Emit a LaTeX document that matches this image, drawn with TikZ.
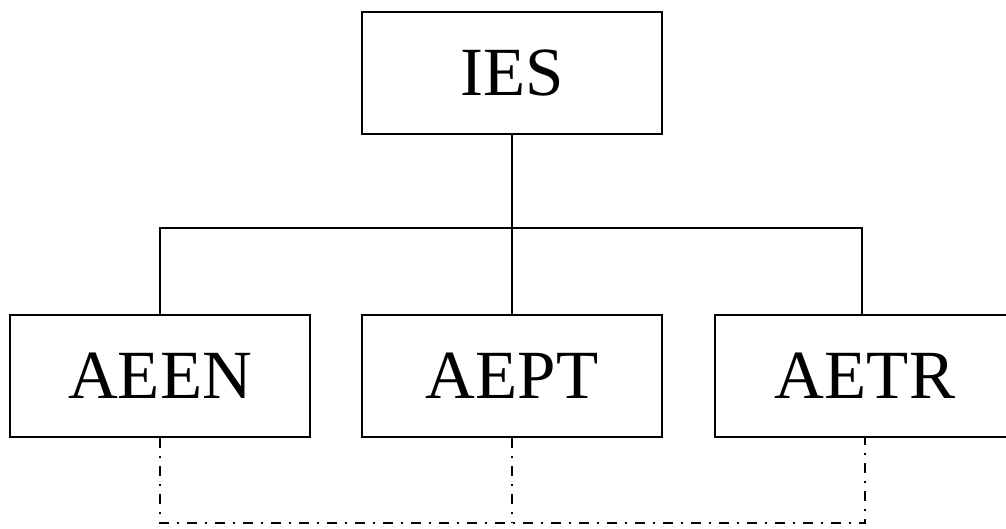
\documentclass[tikz,border=0pt]{standalone}
\usepackage{fontspec}
\setmainfont{Liberation Serif}
\begin{document}
\begin{tikzpicture}[x=1pt,y=-1pt,
  box/.style={draw,line width=2.2pt,minimum width=300pt,minimum height=122pt,inner sep=0pt,font=\fontsize{69}{78}\selectfont},
  link/.style={line width=2.2pt},
  dashdot/.style={line width=2.2pt,dash pattern=on 10pt off 8pt on 2pt off 8pt}]
\useasboundingbox (0,0) rectangle (1006,529);
\node[box] (ies) at (512,73) {IES};
\node[box] (aeen) at (160,376) {AEEN};
\node[box] (aept) at (512,376) {AEPT};
\node[box] (aetr) at (865,376) {AETR};
\coordinate (bus) at (512,228);
\coordinate (bot) at (512,523);
\draw[link] (ies.south) -- (aept.north);
\draw[link] (aeen.north) |- (bus) -| ([xshift=-3pt]aetr.north);
\draw[dashdot] (aeen.south) |- (bot) -| (aetr.south);
\draw[dashdot] (aept.south) -- (bot);
\end{tikzpicture}
\end{document}
